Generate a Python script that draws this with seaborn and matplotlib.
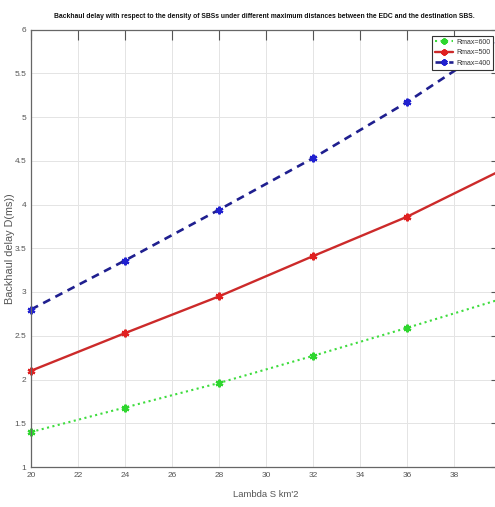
import matplotlib
matplotlib.use("Agg")
import matplotlib.pyplot as plt
import numpy as np
import pandas as pd
import seaborn as sns

# Density of SBSs (per km^2) and backhaul delay (ms) per maximum distance
lambda_s = [20, 24, 28, 32, 36, 40]
delay_r600 = [1.40, 1.68, 1.96, 2.27, 2.59, 2.92]
delay_r500 = [2.10, 2.53, 2.95, 3.41, 3.86, 4.39]
delay_r400 = [2.80, 3.36, 3.94, 4.53, 5.17, 5.88]
series_names = ["Rmax=600", "Rmax=500", "Rmax=400"]

x_ticks = list(range(20, 41, 2))
y_ticks = [1, 1.5, 2, 2.5, 3, 3.5, 4, 4.5, 5, 5.5, 6]

sns.set_theme(style="white")
plt.rcParams["font.family"] = ["Liberation Sans", "DejaVu Sans"]

df = pd.DataFrame({
    "lambda": lambda_s * 3,
    "delay": delay_r600 + delay_r500 + delay_r400,
    "series": np.repeat(series_names, len(lambda_s)),
})

fig = plt.figure(figsize=(4.95, 5.07), dpi=100)
ax = fig.add_axes([31 / 495, 40 / 507, 470 / 495, 437.5 / 507])

styles = {
    "Rmax=600": dict(color="#3ddc3d", linestyle=":", linewidth=1.5, mcolor="#2ed62e"),
    "Rmax=500": dict(color="#cc2a2a", linestyle="-", linewidth=1.7, mcolor="#e02020"),
    "Rmax=400": dict(color="#1f1f8f", linestyle=(0, (3, 2.2)), linewidth=1.9, mcolor="#2020d0"),
}
asterisk = (6, 2, 0)
for name in series_names:
    st = styles[name]
    sub = df[df["series"] == name]
    sns.lineplot(data=sub, x="lambda", y="delay", ax=ax, label=name,
                 color=st["color"], linestyle=st["linestyle"], linewidth=st["linewidth"],
                 marker=asterisk, markersize=5.5, markeredgewidth=1.6,
                 markeredgecolor=st["mcolor"], markerfacecolor=st["mcolor"],
                 clip_on=False)

ax.set_xlim(20, 40)
ax.set_ylim(1, 6)
ax.set_xticks(x_ticks)
ax.set_yticks(y_ticks)
ax.set_yticklabels([("%g" % v) for v in y_ticks])
ax.grid(True, color="#e4e4e4", linewidth=0.7)
ax.set_axisbelow(True)
ax.tick_params(direction="in", length=7, width=0.8, colors="#555555",
               labelsize=6, top=True, right=True, pad=3.5,
               labelcolor="#555555")
for sp in ax.spines.values():
    sp.set_color("#666666")
    sp.set_linewidth(0.9)

ax.set_xlabel("Lambda S km'2", fontsize=6.8, color="#555555", labelpad=8)
ax.set_ylabel("Backhaul delay D(ms))", fontsize=7.8, color="#555555")
ax.yaxis.set_label_coords(-16 / 470, 0.5)
fig.text(264 / 495, 1 - 17 / 507,
         "Backhaul delay with respect to the density of SBSs under different maximum distances between the EDC and the destination SBS.",
         ha="center", va="center", fontsize=4.9, fontweight="bold", color="#111111")

handles = ax.get_lines()[:3]
leg = ax.legend(handles=handles, labels=series_names, loc="upper right",
                bbox_to_anchor=(493 / 495, 1 - 36 / 507),
                bbox_transform=fig.transFigure, fontsize=5, frameon=True,
                fancybox=False, edgecolor="#333333", framealpha=1,
                handlelength=2.6, borderpad=0.4, labelspacing=0.5,
                handletextpad=0.4, borderaxespad=0)
leg.get_frame().set_linewidth(0.8)
for t in leg.get_texts():
    t.set_color("#333333")
for h in leg.legend_handles:
    h.set_markersize(4.5)

fig.savefig("out.png", dpi=100)
